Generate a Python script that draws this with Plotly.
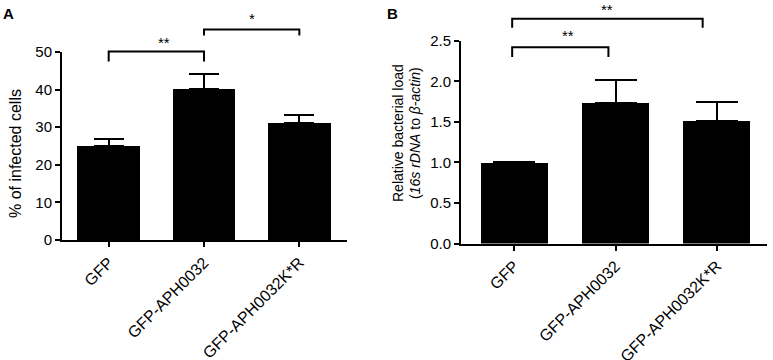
import plotly.graph_objects as go

# ---- data ----
categories = ["GFP", "GFP-APH0032", "GFP-APH0032K*R"]
infected_pct = [25.0, 40.1, 31.0]
infected_err = [1.8, 4.0, 2.2]
bact_load = [1.0, 1.73, 1.51]
bact_err = [0.0, 0.28, 0.24]

# significance brackets: (x_start, x_end, y_bar, y_tip, label, y_label) in data units
brackets_A = [(0.0, 1.0, 50.1, 47.5, "**", 52.6), (1.0, 2.0, 56.0, 54.4, "*", 59.0)]
brackets_B = [(-0.02, 0.93, 2.42, 2.30, "**", 2.56), (-0.02, 1.86, 2.77, 2.66, "**", 2.89)]

W, H = 773, 360
FONT = "Liberation Sans, Arial, sans-serif"

xrA = [-0.49, 2.5]
yrA = [0, 50]
xrB = [-0.525, 2.495]
yrB = [0, 2.5]

fig = go.Figure()
x_idx = list(range(len(categories)))

fig.add_trace(go.Bar(
    x=x_idx, y=infected_pct, width=0.66, marker=dict(color="black", line=dict(width=0)),
    error_y=dict(type="data", array=infected_err, arrayminus=[0] * 3, symmetric=False,
                 color="black", thickness=2, width=15),
    xaxis="x", yaxis="y", showlegend=False))
fig.add_trace(go.Bar(
    x=x_idx, y=bact_load, width=0.66, marker=dict(color="black", line=dict(width=0)),
    error_y=dict(type="data", array=bact_err, arrayminus=[0] * 3, symmetric=False,
                 color="black", thickness=2, width=21, visible=True),
    xaxis="x2", yaxis="y2", showlegend=False))

axis_common = dict(showline=True, linecolor="black", linewidth=2, ticks="outside",
                   ticklen=5, tickwidth=2, tickcolor="black", showgrid=False, zeroline=False,
                   automargin=False,
                   tickfont=dict(family=FONT, size=15, color="black"))
xfont = dict(family=FONT, size=16, color="black")

fig.update_layout(
    width=W, height=H, margin=dict(l=0, r=0, t=0, b=0, autoexpand=False),
    paper_bgcolor="white", plot_bgcolor="white",
    xaxis=dict(domain=[62 / W, 347 / W], range=xrA, anchor="y", tickmode="array",
               tickvals=x_idx, ticktext=categories, tickangle=-45,
               **{**axis_common, "tickfont": xfont}),
    yaxis=dict(domain=[(H - 240) / H, (H - 52) / H], range=yrA, anchor="x",
               tickvals=[0, 10, 20, 30, 40, 50], **axis_common),
    xaxis2=dict(domain=[461 / W, 767 / W], range=xrB, anchor="y2", tickmode="array",
                tickvals=x_idx, ticktext=categories, tickangle=-45,
                **{**axis_common, "tickfont": xfont}),
    yaxis2=dict(domain=[(H - 243.5) / H, (H - 40.7) / H], range=yrB, anchor="x2",
                tickvals=[0, 0.5, 1.0, 1.5, 2.0, 2.5], tickformat=".1f", **axis_common),
    bargap=0,
)

def add_brackets(brs, xr, yr, xname, yname):
    for x0, x1, yb, yt, lab, ytxt in brs:
        fx0 = (x0 - xr[0]) / (xr[1] - xr[0])
        fx1 = (x1 - xr[0]) / (xr[1] - xr[0])
        fyb = (yb - yr[0]) / (yr[1] - yr[0])
        fyt = (yt - yr[0]) / (yr[1] - yr[0])
        fig.add_shape(type="path",
                      path=f"M {fx0} {fyt} L {fx0} {fyb} L {fx1} {fyb} L {fx1} {fyt}",
                      xref=f"{xname} domain", yref=f"{yname} domain",
                      line=dict(color="black", width=2))
        fig.add_annotation(x=(fx0 + fx1) / 2, y=(ytxt - yr[0]) / (yr[1] - yr[0]),
                           xref=f"{xname} domain", yref=f"{yname} domain",
                           text=lab, showarrow=False, yanchor="middle",
                           font=dict(family=FONT, size=15, color="black"))

add_brackets(brackets_A, xrA, yrA, "x", "y")
add_brackets(brackets_B, xrB, yrB, "x2", "y2")

# axis titles and panel labels
fig.add_annotation(x=15 / W, y=1 - 154 / H, xref="paper", yref="paper", text="% of infected cells",
                   textangle=-90, showarrow=False, xanchor="center", yanchor="middle",
                   font=dict(family=FONT, size=16, color="black"))
fig.add_annotation(x=398 / W, y=1 - 133 / H, xref="paper", yref="paper",
                   text="Relative bacterial load", textangle=-90, showarrow=False,
                   xanchor="center", yanchor="middle", font=dict(family=FONT, size=14, color="black"))
fig.add_annotation(x=415 / W, y=1 - 133 / H, xref="paper", yref="paper",
                   text="(<i>16s rDNA</i> to <i>β-actin</i>)", textangle=-90, showarrow=False,
                   xanchor="center", yanchor="middle", font=dict(family=FONT, size=14, color="black"))
fig.add_annotation(x=8 / W, y=1 - 14 / H, xref="paper", yref="paper", text="<b>A</b>",
                   showarrow=False, xanchor="center", yanchor="middle",
                   font=dict(family=FONT, size=15, color="black"))
fig.add_annotation(x=392 / W, y=1 - 14 / H, xref="paper", yref="paper", text="<b>B</b>",
                   showarrow=False, xanchor="center", yanchor="middle",
                   font=dict(family=FONT, size=15, color="black"))

fig.write_html("out.html", config={"displayModeBar": False},
               post_script="document.body.style.margin='0';document.body.style.overflow='hidden';")
